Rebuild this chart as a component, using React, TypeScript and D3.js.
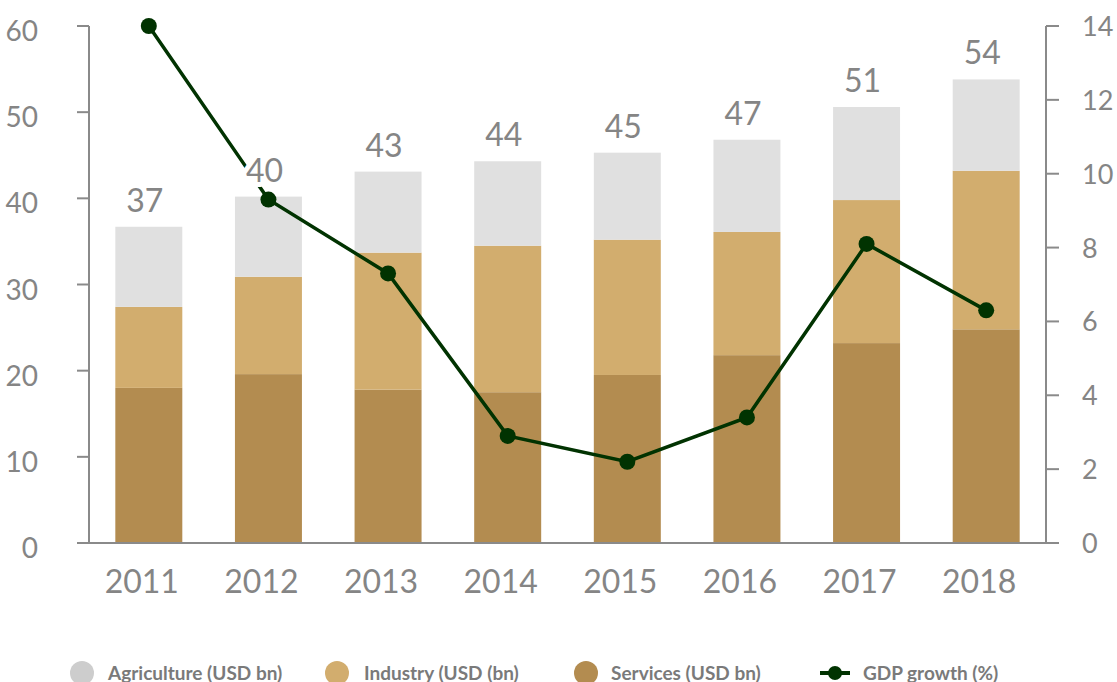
import React from 'react';
import * as d3 from 'd3';

const years = ['2011', '2012', '2013', '2014', '2015', '2016', '2017', '2018'];
// stacked values (USD bn)
const services = [18.0, 19.6, 17.8, 17.5, 19.5, 21.8, 23.2, 24.8];
const industry = [9.4, 11.3, 15.9, 17.0, 15.7, 14.3, 16.6, 18.4];
const agriculture = [9.3, 9.3, 9.4, 9.8, 10.1, 10.7, 10.8, 10.6];
const totalLabels = ['37', '40', '43', '44', '45', '47', '51', '54'];
const gdpGrowth = [14.0, 9.3, 7.3, 2.9, 2.2, 3.4, 8.1, 6.3];

const leftTicks = [0, 10, 20, 30, 40, 50, 60];
const rightTicks = [0, 2, 4, 6, 8, 10, 12, 14];

const seriesNames = ['Services (USD bn)', 'Industry (USD bn)', 'Agriculture (USD bn)'];
const colors = ['#b38c50', '#d2ad6e', '#e0e0e0'];
const lineColor = '#013301';
const textColor = '#858585';
const axisColor = '#8a8a8a';
const font = 'Lato, "Open Sans", sans-serif';

const App = () => {
    const width = 1117;
    const height = 682;
    const left = 89;
    const right = 1046;
    const top = 26;
    const bottom = 543;

    const x = d3.scaleBand().domain(years).range([left, right]).paddingInner(0.44).paddingOuter(0.22);
    const y = d3.scaleLinear().domain([0, 60]).range([bottom, top]);
    const y2 = d3.scaleLinear().domain([0, 14]).range([bottom, top]);

    const table = years.map((yr, i) => ({
        year: yr,
        'Services (USD bn)': services[i],
        'Industry (USD bn)': industry[i],
        'Agriculture (USD bn)': agriculture[i],
    }));
    const stacked = d3.stack().keys(seriesNames)(table as any);

    const cx = (yr: string) => (x(yr) as number) + x.bandwidth() / 2;
    const line = d3.line<number>()
        .x((_, i) => cx(years[i]))
        .y(d => y2(d));

    const legend = [
        { label: 'Agriculture (USD bn)', color: '#cdcdcd', cx: 82, tx: 108, kind: 'dot' },
        { label: 'Industry (USD (bn)', color: '#d2ad6e', cx: 337, tx: 364, kind: 'dot' },
        { label: 'Services (USD bn)', color: '#b38c50', cx: 586, tx: 611, kind: 'dot' },
        { label: 'GDP growth (%)', color: lineColor, cx: 835, tx: 863, kind: 'line' },
    ];

    return (
        <svg width={width} height={height} style={{ position: 'absolute', left: 0, top: 0 }} fontFamily={font}>
            {stacked.map((s, si) => (
                <g key={si} fill={colors[si]}>
                    {s.map((d, i) => (
                        <rect key={i} x={x(years[i])} y={y(d[1])} width={x.bandwidth()} height={y(d[0]) - y(d[1])} />
                    ))}
                </g>
            ))}

            {/* left axis */}
            <line x1={left} x2={left} y1={top} y2={bottom} stroke={axisColor} strokeWidth={2} />
            {leftTicks.map(t => (
                <g key={t}>
                    <line x1={left - 12} x2={left} y1={y(t)} y2={y(t)} stroke={axisColor} strokeWidth={2} />
                    <text x={38} y={y(t) + 15} textAnchor="end" fontSize={28} fill={textColor}>{t}</text>
                </g>
            ))}

            {/* right axis */}
            <line x1={right} x2={right} y1={top} y2={bottom} stroke={axisColor} strokeWidth={2} />
            {rightTicks.map(t => (
                <g key={t}>
                    <line x1={right} x2={right + 13} y1={y2(t)} y2={y2(t)} stroke={axisColor} strokeWidth={2} />
                    <text x={1082} y={y2(t) + 10} fontSize={27} fill={textColor}>{t}</text>
                </g>
            ))}

            {/* baseline */}
            <line x1={left - 12} x2={right + 13} y1={bottom} y2={bottom} stroke={axisColor} strokeWidth={2} />
            {years.map(yr => (
                <text key={yr} x={cx(yr) - 7} y={593} textAnchor="middle" fontSize={32} fill={textColor}>{yr}</text>
            ))}

            {/* GDP growth line */}
            <path d={line(gdpGrowth) as string} fill="none" stroke={lineColor} strokeWidth={3.5} />
            {gdpGrowth.map((v, i) => (
                <circle key={i} cx={cx(years[i])} cy={y2(v)} r={8} fill={lineColor} />
            ))}

            {/* total labels */}
            {stacked[2].map((d, i) => (
                <text key={i} x={cx(years[i]) - 4} y={y(d[1]) - 15} textAnchor="middle" fontSize={32} fill={textColor}
                    stroke="#fff" strokeWidth={10} strokeLinejoin="round" style={{ paintOrder: 'stroke' }}>
                    {totalLabels[i]}
                </text>
            ))}

            {/* legend */}
            {legend.map(l => (
                <g key={l.label}>
                    {l.kind === 'dot' ? (
                        <circle cx={l.cx} cy={673} r={12} fill={l.color} />
                    ) : (
                        <g>
                            <line x1={l.cx - 15} x2={l.cx + 15} y1={673} y2={673} stroke={l.color} strokeWidth={4} />
                            <circle cx={l.cx} cy={673} r={7} fill={l.color} />
                        </g>
                    )}
                    <text x={l.tx} y={680} fontSize={19} fontWeight="bold" fill="#7a7a7a">{l.label}</text>
                </g>
            ))}
        </svg>
    );
};

export default App;
